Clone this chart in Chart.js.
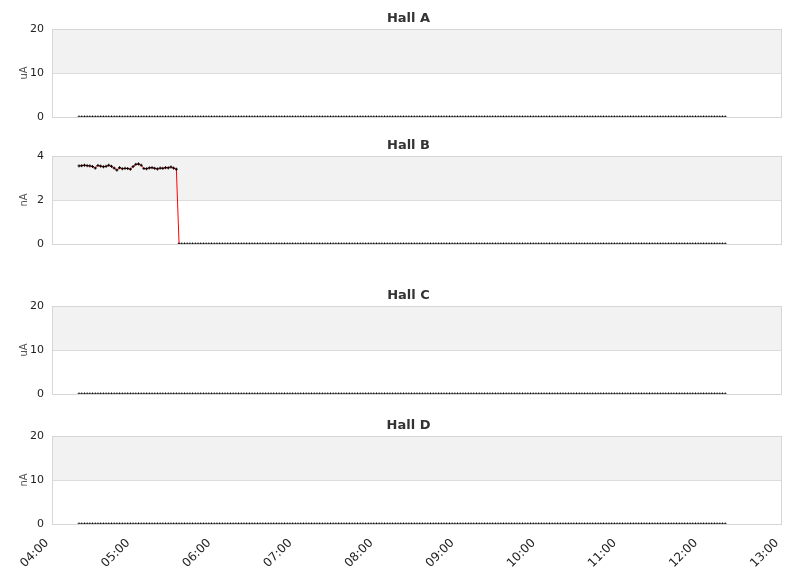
<!DOCTYPE html>
<html>
<head>
<meta charset="utf-8">
<script src="https://cdn.jsdelivr.net/npm/chart.js@4.4.1/dist/chart.umd.min.js"></script>
<style>
  html, body { margin: 0; padding: 0; background: #fff; }
  #wrap { position: relative; width: 811px; height: 578px; overflow: hidden; }
  .panel { position: absolute; left: 0; }
</style>
</head>
<body>
<div id="wrap">
  <canvas id="hallA" class="panel" width="811" height="126" style="top:0px"></canvas>
  <canvas id="hallB" class="panel" width="811" height="126" style="top:127px"></canvas>
  <canvas id="hallC" class="panel" width="811" height="126" style="top:277px"></canvas>
  <canvas id="hallD" class="panel" width="811" height="171" style="top:407px"></canvas>
</div>
<script>
// ---- data ----
// samples every 2 minutes, first one at 04:20 (minutes after midnight)
const sampleStart = 260;
const sampleStep = 2;

// x axis: 04:00 .. 13:00, one tick per hour
const xMin = 240;
const xMax = 780;
const xTickStep = 60;

const hallAValues = [
  0,0,0,0,0,0,0,0,0,0,0,0,0,0,0,0,0,0,0,0,
  0,0,0,0,0,0,0,0,0,0,0,0,0,0,0,0,0,0,0,0,
  0,0,0,0,0,0,0,0,0,0,0,0,0,0,0,0,0,0,0,0,
  0,0,0,0,0,0,0,0,0,0,0,0,0,0,0,0,0,0,0,0,
  0,0,0,0,0,0,0,0,0,0,0,0,0,0,0,0,0,0,0,0,
  0,0,0,0,0,0,0,0,0,0,0,0,0,0,0,0,0,0,0,0,
  0,0,0,0,0,0,0,0,0,0,0,0,0,0,0,0,0,0,0,0,
  0,0,0,0,0,0,0,0,0,0,0,0,0,0,0,0,0,0,0,0,
  0,0,0,0,0,0,0,0,0,0,0,0,0,0,0,0,0,0,0,0,
  0,0,0,0,0,0,0,0,0,0,0,0,0,0,0,0,0,0,0,0,
  0,0,0,0,0,0,0,0,0,0,0,0,0,0,0,0,0,0,0,0,
  0,0,0,0,0,0,0,0,0,0,0,0,0,0,0,0,0,0,0,0
];

const hallBValues = [
  3.55,3.56,3.58,3.56,3.55,3.52,3.45,3.57,3.54,3.51,
  3.53,3.58,3.53,3.45,3.36,3.47,3.42,3.44,3.43,3.40,
  3.52,3.62,3.64,3.58,3.43,3.42,3.46,3.47,3.44,3.41,
  3.45,3.44,3.47,3.46,3.50,3.45,3.40,
  0,0,0,
  0,0,0,0,0,0,0,0,0,0,0,0,0,0,0,0,0,0,0,0,
  0,0,0,0,0,0,0,0,0,0,0,0,0,0,0,0,0,0,0,0,
  0,0,0,0,0,0,0,0,0,0,0,0,0,0,0,0,0,0,0,0,
  0,0,0,0,0,0,0,0,0,0,0,0,0,0,0,0,0,0,0,0,
  0,0,0,0,0,0,0,0,0,0,0,0,0,0,0,0,0,0,0,0,
  0,0,0,0,0,0,0,0,0,0,0,0,0,0,0,0,0,0,0,0,
  0,0,0,0,0,0,0,0,0,0,0,0,0,0,0,0,0,0,0,0,
  0,0,0,0,0,0,0,0,0,0,0,0,0,0,0,0,0,0,0,0,
  0,0,0,0,0,0,0,0,0,0,0,0,0,0,0,0,0,0,0,0,
  0,0,0,0,0,0,0,0,0,0,0,0,0,0,0,0,0,0,0,0
];

const hallCValues = [
  0,0,0,0,0,0,0,0,0,0,0,0,0,0,0,0,0,0,0,0,
  0,0,0,0,0,0,0,0,0,0,0,0,0,0,0,0,0,0,0,0,
  0,0,0,0,0,0,0,0,0,0,0,0,0,0,0,0,0,0,0,0,
  0,0,0,0,0,0,0,0,0,0,0,0,0,0,0,0,0,0,0,0,
  0,0,0,0,0,0,0,0,0,0,0,0,0,0,0,0,0,0,0,0,
  0,0,0,0,0,0,0,0,0,0,0,0,0,0,0,0,0,0,0,0,
  0,0,0,0,0,0,0,0,0,0,0,0,0,0,0,0,0,0,0,0,
  0,0,0,0,0,0,0,0,0,0,0,0,0,0,0,0,0,0,0,0,
  0,0,0,0,0,0,0,0,0,0,0,0,0,0,0,0,0,0,0,0,
  0,0,0,0,0,0,0,0,0,0,0,0,0,0,0,0,0,0,0,0,
  0,0,0,0,0,0,0,0,0,0,0,0,0,0,0,0,0,0,0,0,
  0,0,0,0,0,0,0,0,0,0,0,0,0,0,0,0,0,0,0,0
];

const hallDValues = [
  0,0,0,0,0,0,0,0,0,0,0,0,0,0,0,0,0,0,0,0,
  0,0,0,0,0,0,0,0,0,0,0,0,0,0,0,0,0,0,0,0,
  0,0,0,0,0,0,0,0,0,0,0,0,0,0,0,0,0,0,0,0,
  0,0,0,0,0,0,0,0,0,0,0,0,0,0,0,0,0,0,0,0,
  0,0,0,0,0,0,0,0,0,0,0,0,0,0,0,0,0,0,0,0,
  0,0,0,0,0,0,0,0,0,0,0,0,0,0,0,0,0,0,0,0,
  0,0,0,0,0,0,0,0,0,0,0,0,0,0,0,0,0,0,0,0,
  0,0,0,0,0,0,0,0,0,0,0,0,0,0,0,0,0,0,0,0,
  0,0,0,0,0,0,0,0,0,0,0,0,0,0,0,0,0,0,0,0,
  0,0,0,0,0,0,0,0,0,0,0,0,0,0,0,0,0,0,0,0,
  0,0,0,0,0,0,0,0,0,0,0,0,0,0,0,0,0,0,0,0,
  0,0,0,0,0,0,0,0,0,0,0,0,0,0,0,0,0,0,0,0
];

const panelTitles = ["Hall A", "Hall B", "Hall C", "Hall D"];
const panelUnits = ["uA", "nA", "uA", "nA"];
const panelYMax = [20, 4, 20, 20];
const panelYStep = [10, 2, 10, 10];

// ---- helpers ----
const FONT = "'DejaVu Sans', sans-serif";
const GRID = "#dcdcdc";

function hhmm(min) {
  const h = Math.floor(min / 60);
  const m = min % 60;
  return String(h).padStart(2, "0") + ":" + String(m).padStart(2, "0");
}

function toPoints(values) {
  return values.map((v, i) => ({ x: sampleStart + i * sampleStep, y: v }));
}

// alternating grey band + frame + panel title
const panelDecor = {
  id: "panelDecor",
  beforeDraw(chart) {
    const { ctx, chartArea: a, scales: { y } } = chart;
    const ticks = y.ticks;
    ctx.save();
    ctx.fillStyle = "#f2f2f2";
    for (let i = 1; i < ticks.length - 1; i += 2) {
      const top = y.getPixelForValue(ticks[i + 1].value);
      const bot = y.getPixelForValue(ticks[i].value);
      ctx.fillRect(a.left, top, a.right - a.left, bot - top);
    }
    ctx.restore();
  },
  afterDatasetsDraw(chart) {
    const { ctx, chartArea: a } = chart;
    ctx.save();
    ctx.strokeStyle = "#d6d6d6";
    ctx.lineWidth = 1;
    ctx.strokeRect(Math.round(a.left) + 0.5, Math.round(a.top) + 0.5,
      Math.round(a.right - a.left) - 1, Math.round(a.bottom - a.top));
    ctx.restore();
  },
  afterDraw(chart, args, opts) {
    const { ctx } = chart;
    ctx.save();
    ctx.font = "bold 13px " + FONT;
    ctx.fillStyle = "#333";
    ctx.textAlign = "center";
    ctx.textBaseline = "middle";
    ctx.fillText(opts.text, chart.width / 2 + 3, 19);
    ctx.restore();
  }
};

function makePanel(id, idx, values, showX) {
  const el = document.getElementById(id);
  return new Chart(el, {
    type: "line",
    data: {
      datasets: [{
        data: toPoints(values),
        borderColor: "#ff0000",
        borderWidth: 1,
        tension: 0,
        pointStyle: "cross",
        pointRadius: 1.5,
        pointBorderColor: "#000",
        pointBorderWidth: 1,
        pointBackgroundColor: "#000",
        segment: {
          borderColor: c => (c.p0.parsed.y === 0 && c.p1.parsed.y === 0) ? "rgba(0,0,0,0)" : "#ff0000"
        }
      }]
    },
    options: {
      responsive: false,
      animation: false,
      events: [],
      layout: { padding: { left: 0, right: 29, top: 29, bottom: showX ? 0 : 9 } },
      plugins: {
        legend: { display: false },
        tooltip: { enabled: false },
        panelDecor: { text: panelTitles[idx] }
      },
      scales: {
        x: {
          type: "linear",
          display: showX,
          min: xMin,
          max: xMax,
          grid: { display: false },
          border: { display: false },
          ticks: {
            stepSize: xTickStep,
            minRotation: 45,
            maxRotation: 45,
            padding: 4,
            labelOffset: -5,
            color: "#222",
            font: { family: FONT, size: 12 },
            callback: v => hhmm(v)
          },
          afterFit: s => { if (showX) s.height = 54; }
        },
        y: {
          min: 0,
          max: panelYMax[idx],
          grid: { color: GRID, drawTicks: false },
          border: { display: false },
          ticks: {
            stepSize: panelYStep[idx],
            padding: 8,
            color: "#222",
            font: { family: FONT, size: 11 }
          },
          title: {
            display: true,
            text: panelUnits[idx],
            color: "#555",
            font: { family: FONT, size: 10 },
            padding: { top: 18, bottom: 0 }
          },
          afterFit: s => { s.width = 52; s.paddingTop = 0; s.paddingBottom = 0; }
        }
      }
    },
    plugins: [panelDecor]
  });
}

makePanel("hallA", 0, hallAValues, false);
makePanel("hallB", 1, hallBValues, false);
makePanel("hallC", 2, hallCValues, false);
makePanel("hallD", 3, hallDValues, true);
</script>
</body>
</html>
